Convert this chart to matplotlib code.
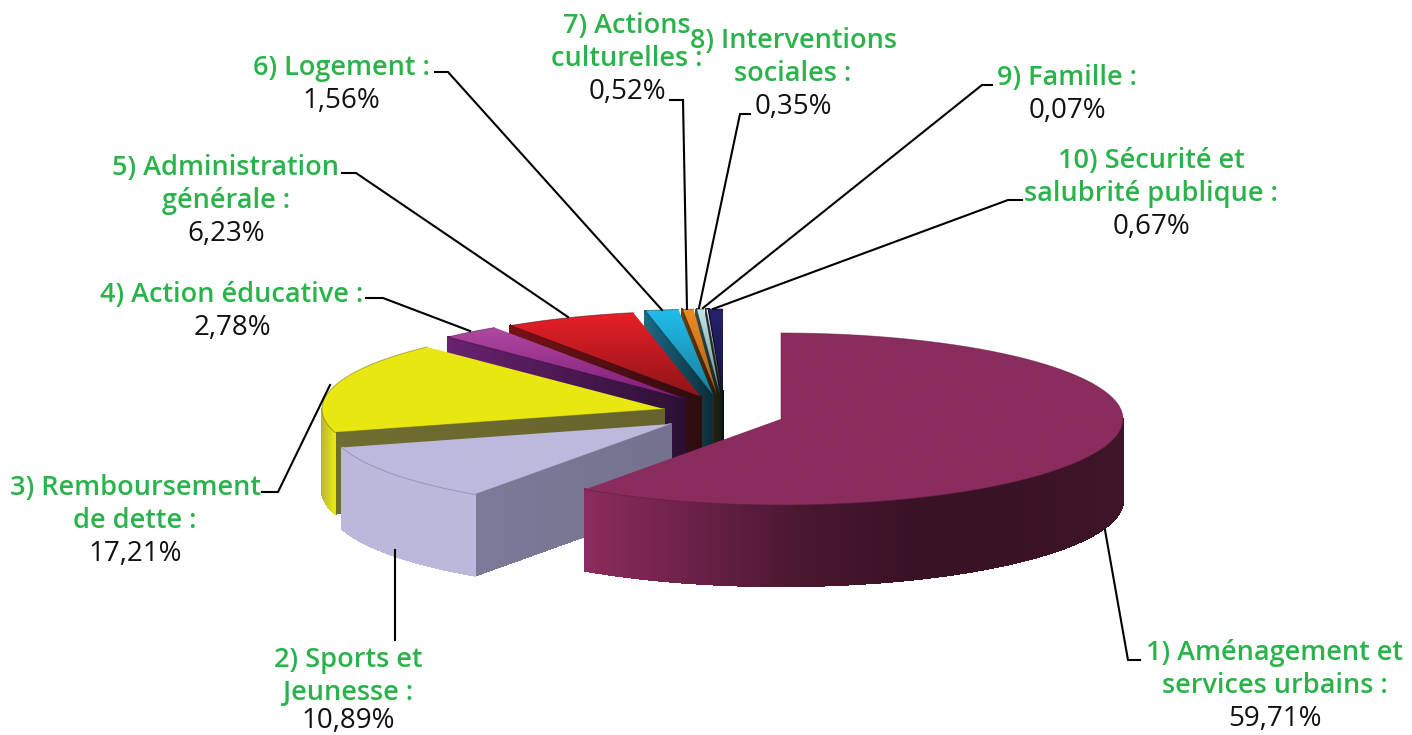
import numpy as np
import matplotlib
matplotlib.use('Agg')
import matplotlib.pyplot as plt
from matplotlib.colors import to_rgb, LinearSegmentedColormap
from matplotlib.collections import PolyCollection
from matplotlib.patches import Polygon

# Data
names = ['1) Aménagement et\nservices urbains :', '2) Sports et\nJeunesse :', '3) Remboursement\nde dette :',
         '4) Action éducative :', '5) Administration\ngénérale :', '6) Logement :',
         '7) Actions\nculturelles :', '8) Interventions\nsociales :', '9) Famille :',
         '10) Sécurité et\nsalubrité publique :']
values = [59.71, 10.89, 17.21, 2.78, 6.23, 1.56, 0.52, 0.35, 0.07, 0.67]
value_labels = ['59,71%', '10,89%', '17,21%', '2,78%', '6,23%', '1,56%', '0,52%', '0,35%', '0,07%', '0,67%']

# Layout in pixels of the original image
apex_x = [781, 671, 664, 685, 701, 713, 717, 720, 722, 723]
apex_y = [419, 424, 409, 399, 397, 395, 395, 395, 395, 395]
rx, ry, depth = 342, 86, 81

top_light = ['#8b2c5e', '#bdb9dd', '#e9e711', '#b0489f', '#ea1f27', '#20bdec', '#f08c1e', '#c4e6e8', '#f0f6f6', '#24226f']
top_dark = ['#8b2c5e', '#bdb9dd', '#e9e711', '#7f1d7a', '#8c1519', '#1b7f9c', '#a8601a', '#5f8a8c', '#808888', '#16143f']
edge_light = ['#8b2c5e', '#7c7a98', '#6f6d30', '#6a2170', '#7a1115', '#1c6a84', '#6a4015', '#355050', '#333333', '#14123f']
edge_dark = ['#3a1226', '#74728e', '#66642c', '#2c1034', '#2c0c10', '#0c2e3a', '#2a1a0a', '#141e1e', '#111111', '#0a0a14']
# outer wall shading, from the left end to the right end
wall_1 = ['#8b2c5e', '#6c2148', '#4a1730', '#3a1226', '#3a1226', '#3e1428']
wall_2 = ['#bcb8dc', '#bcb8dc']
wall_3 = ['#b5b33a', '#e8e612']

label_x = [1275, 348, 135, 232, 226, 341, 627, 793, 1067, 1151]
label_y = [717, 724, 552, 326, 232, 99, 90, 105, 109, 225]
leaders = [[(1105, 530), (1128, 660), (1140, 660)],
           [(395, 550), (395, 640)],
           [(330, 385), (278, 492), (262, 492)],
           [(470, 331), (383, 298), (366, 298)],
           [(568, 317), (356, 173), (342, 173)],
           [(662, 310), (448, 72), (435, 72)],
           [(687, 309), (683, 100), (670, 100)],
           [(699, 308), (740, 114), (750, 114)],
           [(703, 308), (982, 85), (992, 85)],
           [(713, 309), (1008, 200), (1022, 200)]]

fig = plt.figure(figsize=(14.12, 7.35), dpi=100)
ax = fig.add_axes([0, 0, 1, 1])
ax.set_xlim(0, 1412)
ax.set_ylim(735, 0)
ax.axis('off')
plt.rcParams['font.family'] = ['Open Sans', 'DejaVu Sans']

angles = np.concatenate([[0], np.cumsum(values)]) / sum(values) * 360


def rim(i, a, b):
    t = np.radians(np.linspace(a, b, max(int(abs(b - a) * 2), 2)))
    return apex_x[i] + rx * np.sin(t), apex_y[i] - ry * np.cos(t)


def strips(xs, ys, colors, z):
    # a wall hanging under a path, cut in strips so it can be shaded
    polys = [[(xs[k], ys[k]), (xs[k + 1], ys[k + 1]), (xs[k + 1], ys[k + 1] + depth), (xs[k], ys[k] + depth)]
             for k in range(len(xs) - 1)]
    cmap = LinearSegmentedColormap.from_list('w', colors)
    mid = (xs[:-1] + xs[1:]) / 2
    pos = (mid - xs.min()) / max(xs.max() - xs.min(), 1)
    cols = cmap(pos)
    ax.add_collection(PolyCollection(polys, facecolors=cols, edgecolors=cols, linewidths=1.0,
                                     antialiaseds=False, zorder=z))


def draw_slice(i, z):
    a, b = angles[i], angles[i + 1]
    # wall along the radial edge at the start angle
    ox, oy = rim(i, a, a + 0.01)
    n = 60
    ex = np.linspace(ox[0], apex_x[i], n)
    ey = np.linspace(oy[0], apex_y[i], n)
    if i > 0:
        if ex[0] > ex[-1]:
            strips(ex[::-1], ey[::-1], [edge_dark[i], edge_light[i]], z)
        else:
            strips(ex, ey, [edge_light[i], edge_dark[i]], z)
    # wall under the front of the rim
    if i == 0:
        wx, wy = rim(i, 90, b)
        strips(wx[::-1], wy[::-1], wall_1, z + 0.1)
    elif i == 1:
        wx, wy = rim(i, a, 254)
        strips(wx[::-1], wy[::-1], wall_2, z + 0.1)
    elif i == 2:
        wx, wy = rim(i, a, 270)
        strips(wx[::-1], wy[::-1], wall_3, z + 0.1)
    # top face with a vertical gradient clipped to the slice
    tx, ty = rim(i, a, b)
    px = np.r_[apex_x[i], tx]
    py = np.r_[apex_y[i], ty]
    poly = Polygon(np.c_[px, py], closed=True, transform=ax.transData, facecolor='none', edgecolor='none')
    ax.add_patch(poly)
    grad = np.linspace(to_rgb(top_light[i]), to_rgb(top_dark[i]), 64)[:, None, :]
    im = ax.imshow(grad, extent=[px.min(), px.max(), py.max(), py.min()], aspect='auto', zorder=z + 0.2,
                   interpolation='bilinear')
    im.set_clip_path(poly)
    ax.plot(px, py, color=edge_dark[i] if i > 0 else '#5a1c3c', lw=0.7, alpha=0.5, zorder=z + 0.3)


# back slices first, the big front one last
for i, z in zip(range(len(values) - 1, -1, -1), range(10, 30, 2)):
    draw_slice(i, z)
ax.set_xlim(0, 1412)
ax.set_ylim(735, 0)

for pts in leaders:
    lx, ly = zip(*pts)
    ax.plot(lx, ly, color='black', lw=1.5, zorder=40, solid_joinstyle='miter')

line_h = 33
for name, val, x, y in zip(names, value_labels, label_x, label_y):
    lines = name.split('\n')
    for k, line in enumerate(lines):
        ax.text(x, y - (len(lines) - k) * line_h + 2, line, color='#2bb34b', fontsize=19.5, fontweight='semibold',
                ha='center', va='center', zorder=50)
    ax.text(x, min(y + 2, 721), val, color='#111111', fontsize=20, ha='center', va='center', zorder=50)

fig.savefig('out.png', dpi=100)
